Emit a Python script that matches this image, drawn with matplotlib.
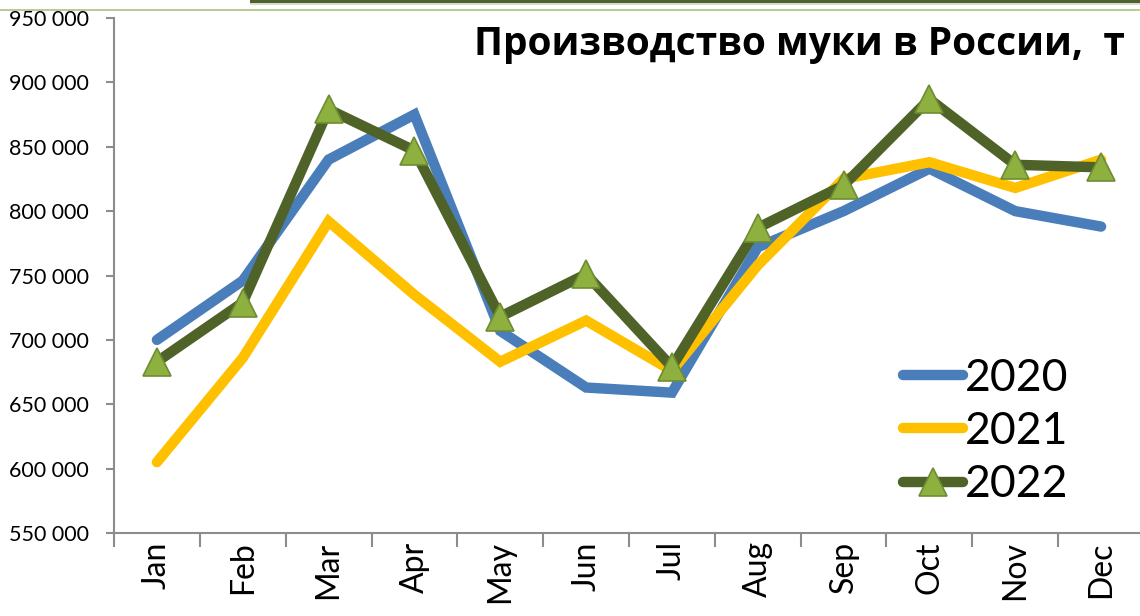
import matplotlib
matplotlib.use("Agg")
import matplotlib.pyplot as plt
from matplotlib.lines import Line2D
from matplotlib.patches import Rectangle
from matplotlib.ticker import FuncFormatter, FixedLocator

months = ["Jan", "Feb", "Mar", "Apr", "May", "Jun", "Jul", "Aug", "Sep", "Oct", "Nov", "Dec"]
y2020 = [700000, 746000, 840000, 875000, 707000, 663000, 659000, 772000, 800000, 833000, 800000, 788000]
y2021 = [605000, 686000, 792000, 735000, 683000, 715000, 676000, 758000, 825000, 838000, 818000, 840000]
y2022 = [683000, 729000, 879000, 847000, 718000, 751000, 679000, 787000, 820000, 887000, 836000, 834000]
series_names = ["2020", "2021", "2022"]
title = "Производство муки в России,  т"

plt.rcParams['font.family'] = ['Lato', 'DejaVu Sans']

W, H = 1140, 616
fig = plt.figure(figsize=(W / 100, H / 100), dpi=100)
fig.patch.set_facecolor("white")

left = 114 / W
right = 1144 / W
bottom = 1 - 533 / H
top = 1 - 18 / H
ax = fig.add_axes([left, bottom, right - left, top - bottom])
ax.set_facecolor("none")

x = list(range(len(months)))
lw = 7.5
ax.plot(x, y2020, color="#4a7ebb", lw=lw, solid_capstyle="round", solid_joinstyle="miter",
        label=series_names[0], zorder=3)
ax.plot(x, y2021, color="#ffc000", lw=lw, solid_capstyle="round", solid_joinstyle="miter",
        label=series_names[1], zorder=4)
ax.plot(x, y2022, color="#4f6228", lw=lw, solid_capstyle="round", solid_joinstyle="miter",
        marker="^", markersize=20, markerfacecolor="#8db03e", markeredgecolor="#6d8c33",
        markeredgewidth=1.2, label=series_names[2], zorder=5)

ax.set_xlim(-0.5, 11.5)
ax.set_ylim(550000, 950000)
ax.yaxis.set_major_locator(FixedLocator(list(range(550000, 950001, 50000))))
ax.yaxis.set_major_formatter(FuncFormatter(lambda v, p: f"{int(v):,}".replace(",", " ")))

ax.set_xticks(x)
ax.set_xticklabels(months, rotation=90, fontsize=23)
ax.tick_params(axis="x", which="major", length=0, pad=6)
ax.set_xticks([i + 0.5 for i in range(-1, 12)], minor=True)
ax.tick_params(axis="x", which="minor", length=10, width=1.5, color="#8c8c8c", direction="out")
ax.tick_params(axis="y", length=6, width=1.5, color="#8c8c8c", labelsize=15.5, pad=12)

for s in ["top", "right"]:
    ax.spines[s].set_visible(False)
for s in ["left", "bottom"]:
    ax.spines[s].set_color("#8c8c8c")
    ax.spines[s].set_linewidth(1.5)

leg = fig.legend(*ax.get_legend_handles_labels(), loc="center left",
                 bbox_to_anchor=(903 / W, 1 - 431.5 / H), frameon=False,
                 fontsize=32, handlelength=1.35, handletextpad=0.05, labelspacing=0.28,
                 borderpad=0, borderaxespad=0)

fig.text(1125 / W, 1 - 44 / H, title, ha="right", va="center", fontsize=28,
         fontweight="bold", family=["Open Sans", "DejaVu Sans"])

# top decorations
fig.add_artist(Line2D([0, 1], [1 - 10 / H] * 2, color="#a9c47f", lw=1.2))
fig.add_artist(Rectangle((250 / W, 1 - 5 / H), 1, 5 / H, color="#d9d9d9", lw=0))
fig.add_artist(Rectangle((250 / W, 1 - 3 / H), 1, 3 / H, color="#4f6228", lw=0))

fig.savefig("out.png", dpi=100)
